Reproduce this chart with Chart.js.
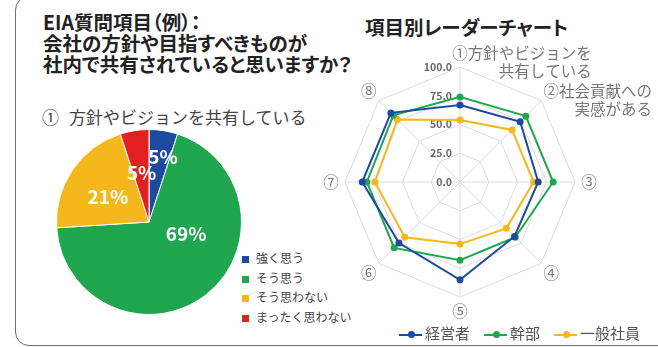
<!DOCTYPE html>
<html lang="ja">
<head>
<meta charset="utf-8">
<title>EIA質問項目</title>
<script src="https://cdn.jsdelivr.net/npm/chart.js@4.4.1/dist/chart.umd.min.js"></script>
<style>
  html, body { margin: 0; padding: 0; background: #fff; }
  body { width: 658px; height: 347px; position: relative; overflow: hidden;
         font-family: "Noto Sans CJK JP", "Noto Sans", sans-serif; }
  .frame { position: absolute; left: 15px; top: -4px; width: 800px; height: 350px;
           box-sizing: border-box; border: 1.5px solid #707070; border-radius: 14px; }
  .t { position: absolute; white-space: nowrap; }
  .title { font-weight: 700; font-size: 19.5px; line-height: 22px; color: #222; font-feature-settings: "palt"; }
  .sub { font-size: 17px; line-height: 20px; color: #444; }
  .sub b { font-weight: 400; margin-right: 10px; }
  canvas { position: absolute; }
  #pieLegend { position: absolute; left: 242px; top: 248px; font-size: 12px; color: #444; }
  #pieLegend div { height: 19.7px; line-height: 19.7px; white-space: nowrap; }
  #pieLegend i { display: inline-block; width: 7px; height: 7px; margin-right: 7px; vertical-align: 0px; }
  #radarLegend { position: absolute; left: 399px; top: 322px; font-size: 15px; line-height: 21px; color: #555;
                 display: flex; gap: 14px; white-space: nowrap; }
  #radarLegend .ln { display: inline-block; width: 23px; height: 2.5px; position: relative; vertical-align: middle; margin-right: 3px; }
  #radarLegend .ln::after { content: ""; position: absolute; left: 8.5px; top: -2.25px; width: 7px; height: 7px;
                            border-radius: 50%; background: inherit; }
</style>
</head>
<body>
<div class="frame"></div>

<div class="t title" style="left:43px; top:10.5px;">EIA質問項目（例）：</div>
<div class="t title" style="left:43px; top:31.5px;">会社の方針や目指すべきものが</div>
<div class="t title" style="left:43px; top:52.5px;">社内で共有されていると思いますか？</div>
<div class="t sub" style="left:42px; top:107px;"><b>①</b>方針やビジョンを共有している</div>

<div class="t title" style="left:365px; top:15.5px;">項目別レーダーチャート</div>

<canvas id="pie" width="186" height="186" style="left:56px; top:129px;"></canvas>
<div id="pieLegend"></div>

<canvas id="radar" width="338" height="307" style="left:320px; top:40px;"></canvas>
<div id="radarLegend"></div>

<script>
// 円グラフ：① 方針やビジョンを共有している
const pieLabels = ['強く思う', 'そう思う', 'そう思わない', 'まったく思わない'];
const pieValues = [5, 69, 21, 5];
const pieColors = ['#1c4a9f', '#1fa64f', '#f5b81c', '#e32020'];

// レーダーチャート：項目別
const radarAxes = [['①方針やビジョンを', '共有している'], ['②社会貢献への', '実感がある'],
                   ['③'], ['④'], ['⑤'], ['⑥'], ['⑦'], ['⑧']];
const radarTicks = [0, 25, 50, 75, 100];
const seriesNames = ['経営者', '幹部', '一般社員'];
const keieisha = [67, 74, 68, 67, 85, 75, 85, 85];
const kanbu = [74, 81, 81, 68, 68, 81, 81, 82];
const ippan = [54, 64, 64, 57, 54, 68, 74, 77];
const seriesColors = ['#1c4a9f', '#1fa64f', '#f5b81c'];

const JP = '"Noto Sans CJK JP", "Noto Sans", sans-serif';

// パーセント表示（扇形ごとの角度位置 t と半径位置 r）
const pieLabelPlugin = {
  id: 'pieLabels',
  afterDatasetsDraw(chart, args, opts) {
    const ctx = chart.ctx;
    const arcs = chart.getDatasetMeta(0).data;
    ctx.save();
    ctx.fillStyle = '#fff';
    ctx.font = 'bold 19px ' + JP;
    ctx.textAlign = 'center';
    ctx.textBaseline = 'middle';
    arcs.forEach((arc, i) => {
      const p = opts.place[i];
      const a = arc.startAngle + (arc.endAngle - arc.startAngle) * p.t;
      const x = arc.x + Math.cos(a) * arc.outerRadius * p.r;
      const y = arc.y + Math.sin(a) * arc.outerRadius * p.r;
      ctx.fillText(chart.data.datasets[0].data[i] + '%', x, y);
    });
    ctx.restore();
  }
};

new Chart(document.getElementById('pie'), {
  type: 'pie',
  data: {
    labels: pieLabels,
    datasets: [{ data: pieValues, backgroundColor: pieColors, borderColor: '#fff', borderWidth: 1 }]
  },
  options: {
    responsive: false,
    animation: false,
    layout: { padding: 0 },
    plugins: {
      legend: { display: false },
      tooltip: { enabled: false },
      pieLabels: { place: [{ t: 0.68, r: 0.72 }, { t: 0.36, r: 0.42 }, { t: 0.46, r: 0.52 }, { t: 0.53, r: 0.54 }] }
    }
  },
  plugins: [pieLabelPlugin]
});

// 目盛り数値（軸の左側）と項目名
const radarTextPlugin = {
  id: 'radarText',
  beforeDatasetsDraw(chart) {
    const scale = chart.scales.r;
    const ctx = chart.ctx;
    ctx.save();
    ctx.fillStyle = '#666';
    ctx.font = 'bold 10.5px ' + JP;
    ctx.textAlign = 'right';
    ctx.textBaseline = 'middle';
    scale.ticks.forEach(tick => {
      const y = scale.yCenter - scale.getDistanceFromCenterForValue(tick.value);
      ctx.fillText(tick.value.toFixed(1), scale.xCenter - 8, y);
    });
    ctx.restore();
  },
  afterDraw(chart) {
    const scale = chart.scales.r;
    const ctx = chart.ctx;
    ctx.save();
    ctx.fillStyle = '#777';
    ctx.font = '15.5px ' + JP;
    ctx.textBaseline = 'middle';
    chart.data.labels.forEach((lines, i) => {
      const p = scale.getPointPosition(i, scale.drawingArea + 14);
      const first = lines[0];
      const left = p.x - ctx.measureText(first.charAt(0)).width / 2;
      ctx.textAlign = 'left';
      ctx.fillText(first, left, p.y);
      const right = left + ctx.measureText(first).width;
      ctx.textAlign = 'right';
      for (let k = 1; k < lines.length; k++) {
        ctx.fillText(lines[k], right, p.y + k * 18);
      }
    });
    ctx.restore();
  }
};

const radarSeries = [keieisha, kanbu, ippan];

new Chart(document.getElementById('radar'), {
  type: 'radar',
  data: {
    labels: radarAxes,
    datasets: radarSeries.map((vals, i) => ({
      label: seriesNames[i],
      data: vals,
      borderColor: seriesColors[i],
      backgroundColor: seriesColors[i],
      pointBackgroundColor: seriesColors[i],
      pointBorderColor: seriesColors[i],
      borderWidth: 2,
      pointRadius: 2.5,
      fill: false
    }))
  },
  options: {
    responsive: false,
    animation: false,
    layout: { padding: { left: 25, top: 27, right: 83, bottom: 50 } },
    scales: {
      r: {
        min: radarTicks[0],
        max: radarTicks[radarTicks.length - 1],
        ticks: { display: false, stepSize: radarTicks[1] - radarTicks[0] },
        pointLabels: { display: false },
        grid: { color: '#dcdcdc', lineWidth: 1 },
        angleLines: { color: '#dcdcdc', lineWidth: 1 }
      }
    },
    plugins: {
      legend: { display: false },
      tooltip: { enabled: false }
    }
  },
  plugins: [radarTextPlugin]
});

// 凡例
const pieLegend = document.getElementById('pieLegend');
pieLabels.forEach((name, i) => {
  const row = document.createElement('div');
  row.innerHTML = `<i style="background:${pieColors[i]}"></i>${name}`;
  pieLegend.appendChild(row);
});

const radarLegend = document.getElementById('radarLegend');
seriesNames.forEach((name, i) => {
  const item = document.createElement('span');
  item.innerHTML = `<span class="ln" style="background:${seriesColors[i]}"></span>${name}`;
  radarLegend.appendChild(item);
});
</script>
</body>
</html>
